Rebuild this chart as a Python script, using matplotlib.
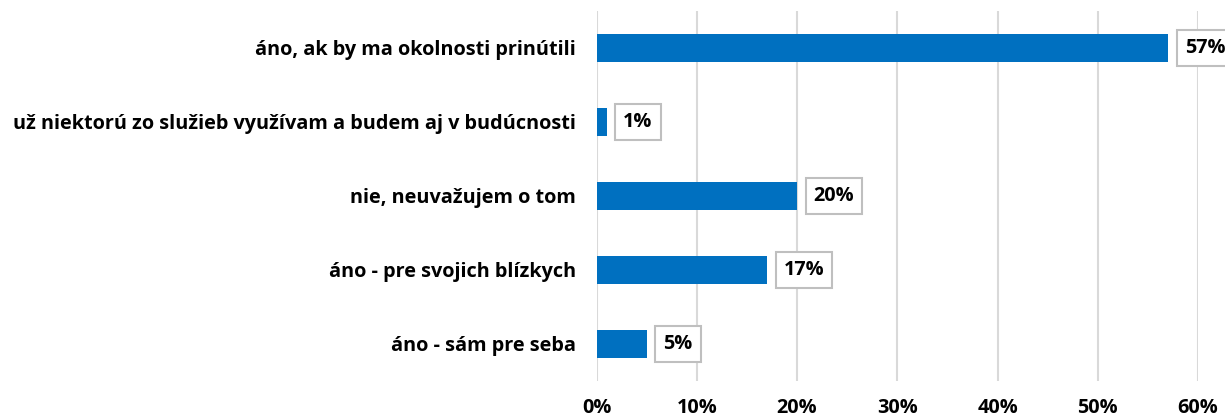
import matplotlib.pyplot as plt
from matplotlib.ticker import FuncFormatter

categories = ["áno - sám pre seba", "áno - pre svojich blízkych", "nie, neuvažujem o tom",
              "už niektorú zo služieb využívam a budem aj v budúcnosti",
              "áno, ak by ma okolnosti prinútili"]
values = [5, 17, 20, 1, 57]
xticks = [0, 10, 20, 30, 40, 50, 60]

plt.rcParams['font.family'] = ['Open Sans', 'DejaVu Sans']
plt.rcParams['font.weight'] = 'bold'
fs = 14.3

fig = plt.figure(figsize=(12.25, 4.19), dpi=100)
ax = fig.add_axes([0.487, 0.091, 0.491, 0.883])

pos = range(len(categories))
ax.barh(pos, values, height=0.38, color='#0070C0', zorder=3)
ax.set_yticks(list(pos))
ax.set_yticklabels(categories, fontsize=fs, fontweight='bold')
ax.set_ylim(-0.5, len(categories) - 0.5)

ax.set_xlim(0, 60)
ax.set_xticks(xticks)
ax.xaxis.set_major_formatter(FuncFormatter(lambda v, p: f"{v:.0f}%"))
for t in ax.get_xticklabels():
    t.set_fontsize(fs)
    t.set_fontweight('bold')
ax.tick_params(axis='both', length=0)
ax.tick_params(axis='x', pad=12)
ax.tick_params(axis='y', pad=15)
ax.grid(axis='x', color='#D9D9D9', linewidth=1.5, zorder=0)
for s in ax.spines.values():
    s.set_visible(False)

for i, v in enumerate(values):
    ax.annotate(f"{v}%", (v, i), xytext=(12, 0), textcoords='offset points',
                va='center', ha='left', fontsize=fs, fontweight='bold',
                bbox=dict(boxstyle='square,pad=0.4', fc='white', ec='#BFBFBF', lw=1.5),
                annotation_clip=False, zorder=4)

fig.savefig('out.png', dpi=100)
